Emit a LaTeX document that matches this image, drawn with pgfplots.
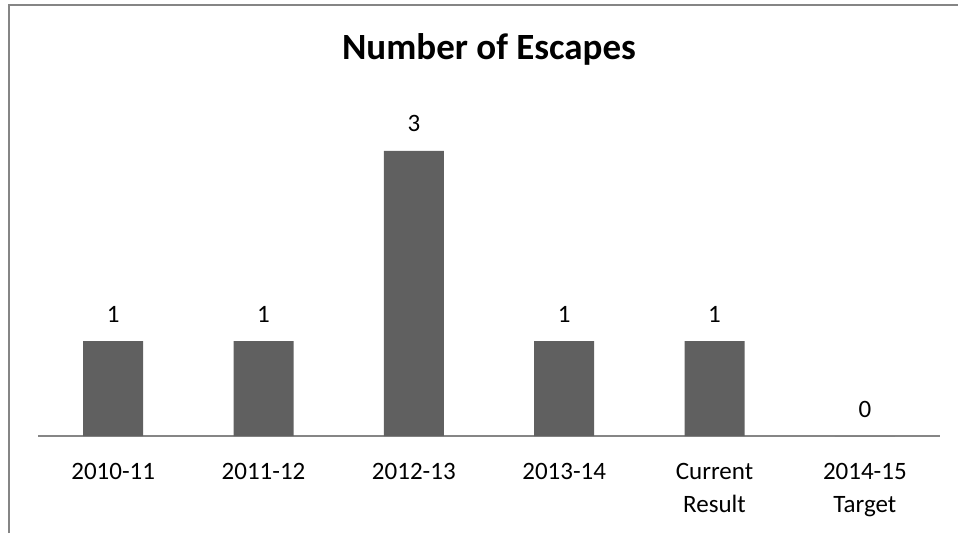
\documentclass[border=0pt]{standalone}
\usepackage{pgfplots}
\pgfplotsset{compat=1.18}
\usepackage{fontspec}
\setmainfont{Carlito}
\definecolor{barc}{HTML}{606060}
\definecolor{axc}{HTML}{868686}
\definecolor{framec}{HTML}{858585}
\begin{document}
\begin{tikzpicture}[x=1pt,y=1pt]
\useasboundingbox (0,0) rectangle (958,533);
\draw[framec, line width=2pt] (9,0) -- (9,528) -- (958,528);
\node[font=\fontsize{37}{40}\selectfont\bfseries, anchor=base] at (489,473) {Number of Escapes};
\begin{axis}[
  at={(38pt,97pt)}, anchor=south west,
  scale only axis, width=902pt, height=380pt,
  xmin=-0.5, xmax=5.5, ymin=0, ymax=4,
  axis y line=none, axis x line*=bottom,
  axis line style={axc, line width=2pt},
  x axis line style={-},
  xtick={0,1,2,3,4,5},
  xticklabels={2010-11,2011-12,2012-13,2013-14,{Current\\Result},{2014-15\\Target}},
  major tick length=0pt,
  xticklabel style={font=\fontsize{25}{33}\selectfont, align=center, inner sep=0pt, yshift=-27pt},
  ybar, bar width=60pt,
  /pgf/number format/assume math mode=true,
  nodes near coords,
  every node near coord/.append style={font=\fontsize{25}{30}\selectfont, inner sep=0pt, yshift=19pt, anchor=base},
  clip=false,
]
\addplot[fill=barc, draw=none] coordinates {(0,1) (1,1) (2,3) (3,1) (4,1) (5,0)};
\end{axis}
\end{tikzpicture}
\end{document}
